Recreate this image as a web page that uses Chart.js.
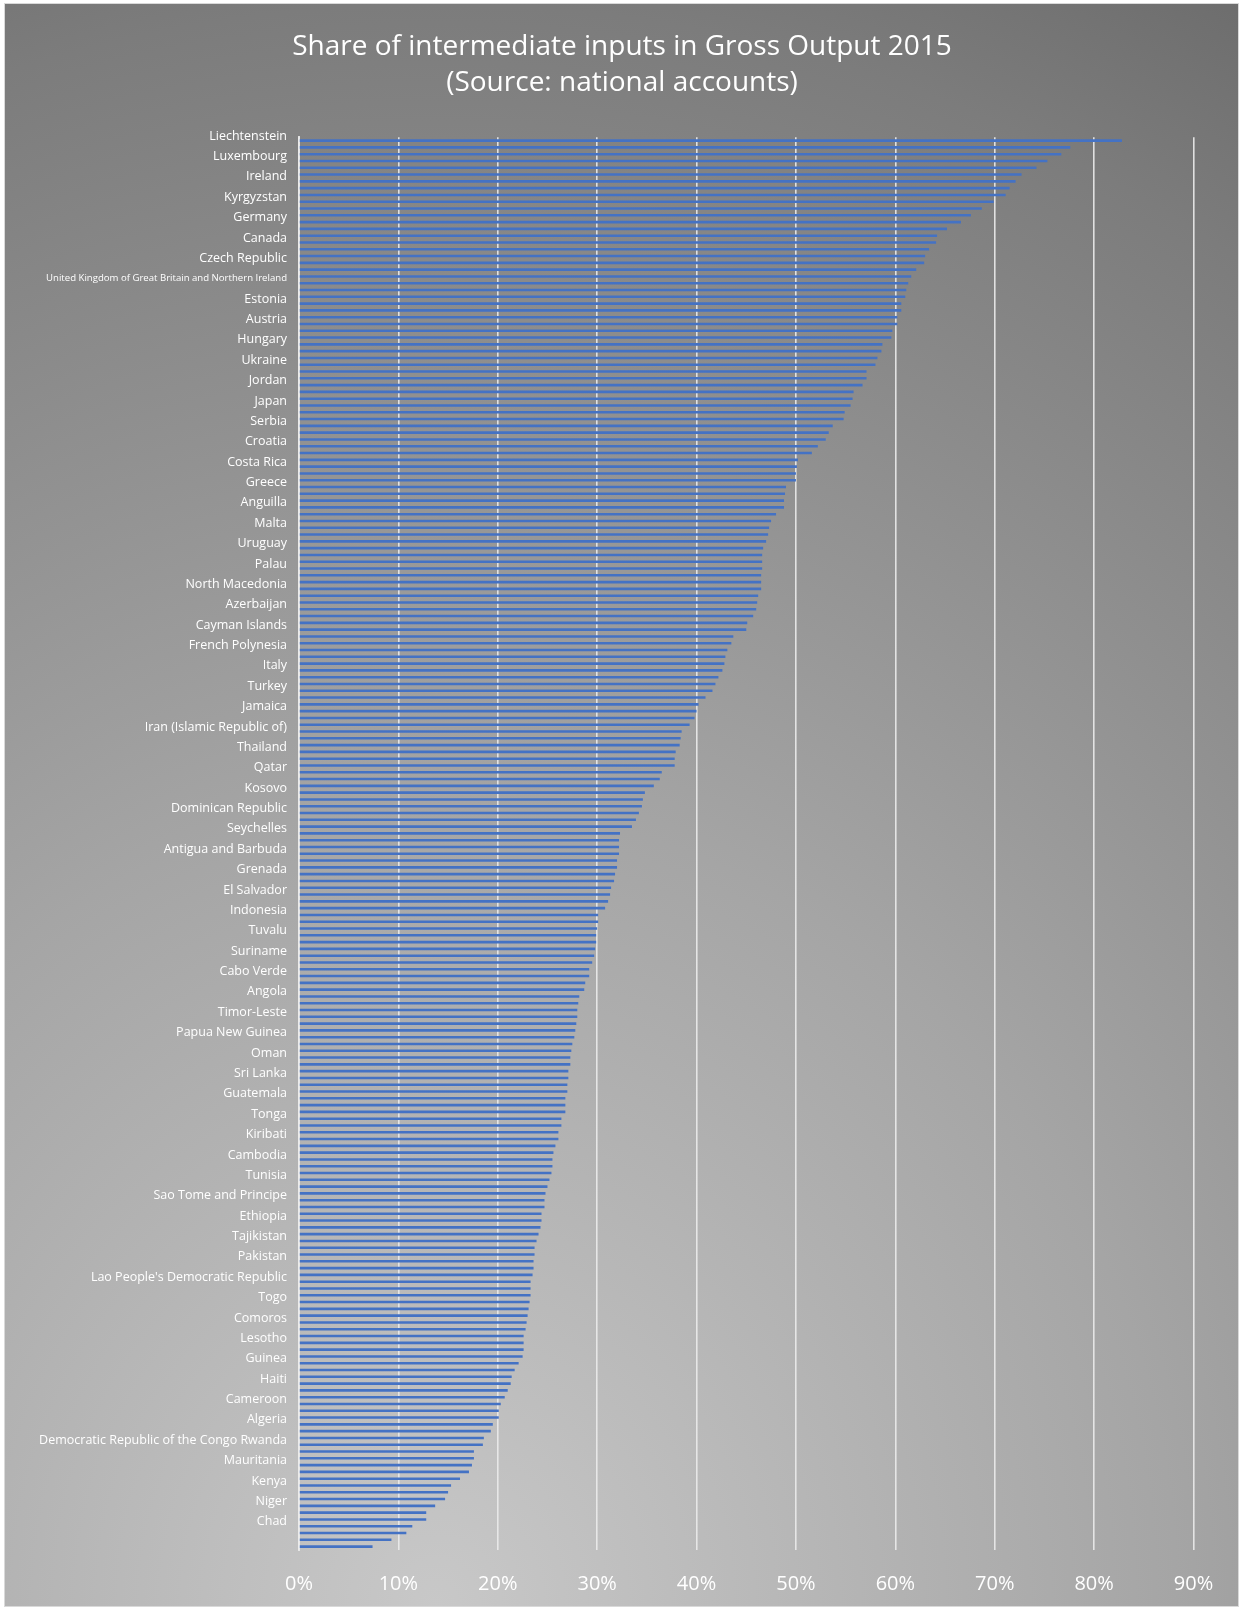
<!DOCTYPE html>
<html>
<head>
<meta charset="utf-8">
<script src="https://cdn.jsdelivr.net/npm/chart.js@4.4.1/dist/chart.umd.min.js"></script>
<style>
  html, body { margin: 0; padding: 0; background: #fff; }
  #wrap { position: relative; width: 1244px; height: 1609px; }
  #frame {
    position: absolute; left: 4px; top: 3px; width: 1233px; height: 1602px;
    border: 1px solid #d9d9d9;
    background: radial-gradient(ellipse 120% 100% at 35% 100%, #c8c8c8 0%, #a5a5a5 50%, #7c7c7c 100%, #6c6c6c 115%);
  }
  #chart { position: absolute; left: 0; top: 0; }
</style>
</head>
<body>
<div id="wrap">
  <div id="frame"></div>
  <canvas id="chart" width="1244" height="1609"></canvas>
</div>
<script>
// country shown on every third bar (Excel label interval 3)
const shownCountries = [
  'Liechtenstein', 'Luxembourg', 'Ireland', 'Kyrgyzstan', 'Germany', 'Canada',
  'Czech Republic', 'United Kingdom of Great Britain and Northern Ireland', 'Estonia',
  'Austria', 'Hungary', 'Ukraine', 'Jordan', 'Japan', 'Serbia', 'Croatia', 'Costa Rica',
  'Greece', 'Anguilla', 'Malta', 'Uruguay', 'Palau', 'North Macedonia', 'Azerbaijan',
  'Cayman Islands', 'French Polynesia', 'Italy', 'Turkey', 'Jamaica',
  'Iran (Islamic Republic of)', 'Thailand', 'Qatar', 'Kosovo', 'Dominican Republic',
  'Seychelles', 'Antigua and Barbuda', 'Grenada', 'El Salvador', 'Indonesia', 'Tuvalu',
  'Suriname', 'Cabo Verde', 'Angola', 'Timor-Leste', 'Papua New Guinea', 'Oman',
  'Sri Lanka', 'Guatemala', 'Tonga', 'Kiribati', 'Cambodia', 'Tunisia',
  'Sao Tome and Principe', 'Ethiopia', 'Tajikistan', 'Pakistan',
  "Lao People's Democratic Republic", 'Togo', 'Comoros', 'Lesotho', 'Guinea', 'Haiti',
  'Cameroon', 'Algeria', 'Democratic Republic of the Congo Rwanda', 'Mauritania',
  'Kenya', 'Niger', 'Chad'
];

// share of intermediate inputs, % of gross output, top to bottom
const shares = [
  82.8, 77.6, 76.7, 75.3, 74.2, 72.7, 72.1, 71.5, 71.1, 69.9, 68.7, 67.6, 66.6, 65.2, 64.2,
  64.1, 63.4, 63.0, 62.9, 62.1, 61.6, 61.3, 61.1, 61.0, 60.6, 60.6, 60.2, 60.2, 59.7,
  59.6, 58.7, 58.6, 58.2, 58.0, 57.1, 57.1, 56.7, 55.8, 55.7, 55.5, 54.9, 54.8, 53.7, 53.3,
  53.0, 52.2, 51.6, 50.2, 50.1, 50.0, 50.0, 49.0, 48.9, 48.8, 48.8, 48.0, 47.5, 47.3, 47.2,
  47.0, 46.7, 46.6, 46.6, 46.6, 46.5, 46.5, 46.5, 46.2, 46.1, 46.0, 45.7, 45.1,
  45.0, 43.7, 43.5, 43.1, 42.9, 42.8, 42.6, 42.2, 41.9, 41.6, 40.9, 40.2, 40.0, 39.8, 39.3,
  38.5, 38.4, 38.3, 37.9, 37.8, 37.8, 36.5, 36.3, 35.7, 34.8, 34.6, 34.5, 34.2, 33.9, 33.5,
  32.3, 32.2, 32.2, 32.2, 32.0, 32.0, 31.8, 31.7, 31.4, 31.3, 31.1,
  30.8, 30.1, 30.1, 30.0, 29.9, 29.9, 29.8, 29.7, 29.5, 29.2, 29.2, 28.8, 28.7, 28.2, 28.1,
  28.0, 28.0, 27.9, 27.8, 27.7, 27.5, 27.4, 27.3, 27.3, 27.1, 27.1, 27.0, 27.0, 26.8, 26.8,
  26.8, 26.4, 26.4, 26.1, 26.1, 25.8, 25.6, 25.5, 25.5, 25.4, 25.2, 25.0, 24.8,
  24.7, 24.7, 24.4, 24.4, 24.3, 24.1, 23.9, 23.7, 23.7, 23.6, 23.6, 23.5, 23.3, 23.3, 23.3,
  23.2, 23.1, 23.0, 22.9, 22.8, 22.6, 22.6, 22.6, 22.5, 22.1, 21.7, 21.4, 21.3, 21.0, 20.7,
  20.3, 20.1, 20.1,
  19.5, 19.3, 18.6, 18.5, 17.6, 17.6, 17.4, 17.1, 16.2, 15.3, 15.0, 14.7, 13.7, 12.8, 12.8,
  11.4, 10.8, 9.3, 7.4
];

const xTicks = [0, 10, 20, 30, 40, 50, 60, 70, 80, 90];

const labels = shares.map((v, i) => (i % 3 === 0 && shownCountries[i / 3]) ? shownCountries[i / 3] : '');

const lineColor = 'rgba(235,235,235,0.9)';
const fontFamily = "'Open Sans', 'Noto Sans', sans-serif";

new Chart(document.getElementById('chart'), {
  type: 'bar',
  data: {
    labels: labels,
    datasets: [{
      data: shares,
      backgroundColor: '#4472C4',
      borderWidth: 0,
      categoryPercentage: 1,
      barPercentage: 0.38
    }]
  },
  options: {
    indexAxis: 'y',
    responsive: false,
    animation: false,
    devicePixelRatio: 1,
    layout: { padding: 0 },
    plugins: {
      legend: { display: false },
      tooltip: { enabled: false },
      title: {
        display: true,
        text: 'Share of intermediate inputs in Gross Output 2015',
        color: '#ffffff',
        font: { family: fontFamily, size: 28, weight: 'normal', lineHeight: 1.2 },
        padding: { top: 30, bottom: 3 }
      },
      subtitle: {
        display: true,
        text: '(Source: national accounts)',
        color: '#ffffff',
        font: { family: fontFamily, size: 28, weight: 'normal', lineHeight: 1.2 },
        padding: { top: 0, bottom: 37 }
      }
    },
    scales: {
      x: {
        min: 0,
        max: 90,
        afterBuildTicks: scale => { scale.ticks = xTicks.map(v => ({ value: v })); },
        afterFit: scale => { scale.height = 59; },
        grid: { color: lineColor, lineWidth: 1.6, drawTicks: false },
        border: { display: false },
        ticks: {
          color: '#ffffff',
          padding: 22,
          font: { family: fontFamily, size: 20 },
          callback: v => v + '%'
        }
      },
      y: {
        afterFit: scale => { scale.width = 299; },
        grid: { display: false, drawTicks: false },
        border: { display: true, color: lineColor, width: 2 },
        ticks: {
          autoSkip: false,
          color: '#ffffff',
          padding: 12,
          labelOffset: -4.5,
          font: ctx => ({ family: fontFamily, size: (ctx.tick && ctx.tick.label && ctx.tick.label.length > 45) ? 9.6 : 12.5 })
        }
      },
      // empty right-hand margin so the chart area ends at 90%
      yRight: {
        position: 'right',
        display: true,
        afterFit: scale => { scale.width = 50.5; },
        grid: { display: false, drawTicks: false },
        border: { display: false },
        ticks: { display: false }
      }
    }
  }
});
</script>
</body>
</html>
